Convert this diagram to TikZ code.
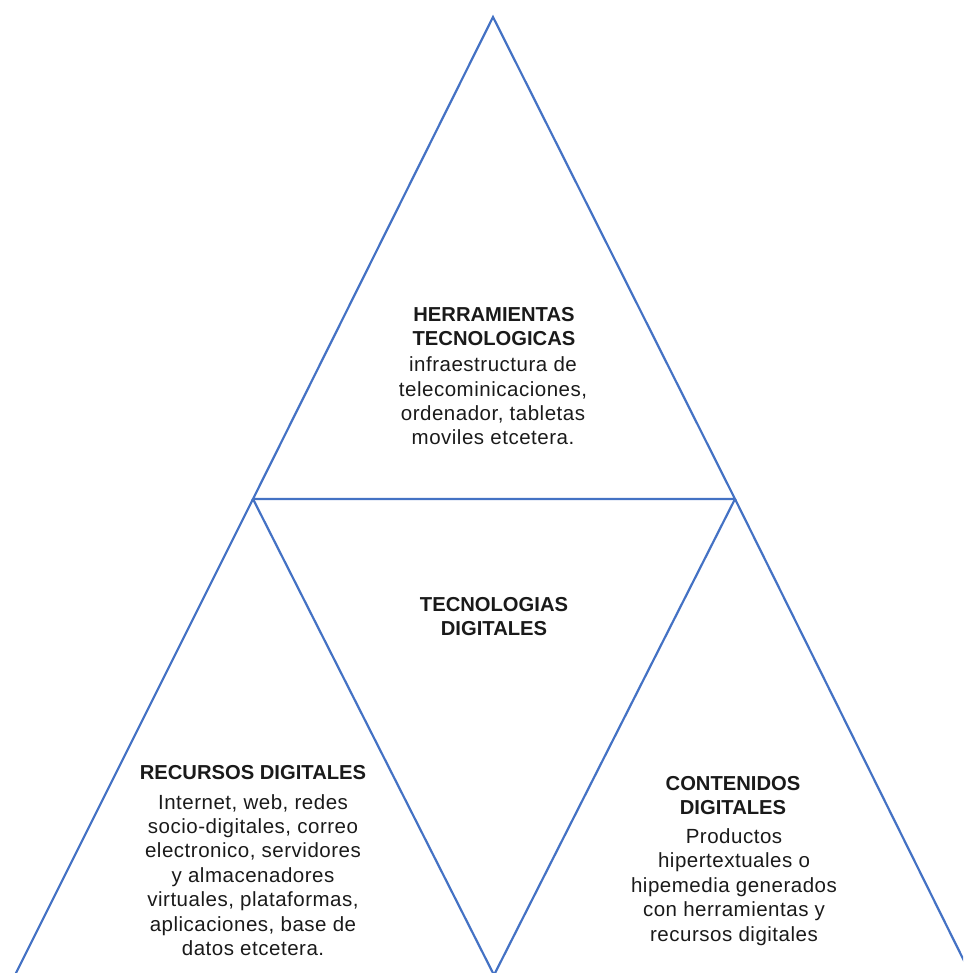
\documentclass[tikz,border=0pt]{standalone}
\usepackage{fontspec}
\setmainfont{Liberation Sans}
\newfontfamily\bodyfont[LetterSpace=2.5]{Liberation Sans}
\definecolor{lineblue}{HTML}{4472C4}
\definecolor{ink}{HTML}{1A1A1A}
\begin{document}
\begin{tikzpicture}[x=1pt,y=-1pt,
  edge/.style={draw=lineblue, line width=2.2pt, line join=miter},
  head/.style={font=\fontsize{20.2}{24}\selectfont\bfseries, text=ink, align=center, inner sep=0pt},
  body/.style={font=\bodyfont\fontsize{20.5}{24.4}\selectfont, text=ink, align=center, inner sep=0pt}]
\useasboundingbox (0,0) rectangle (963,973);
\clip (0,0) rectangle (963,973);
% corner points of the four triangles
\coordinate (apex) at (493,17);
\coordinate (ml) at (253,499);
\coordinate (mr) at (735,499);
\coordinate (bl) at (10,985);
\coordinate (bc) at (494,975);
\coordinate (br) at (976,985);
% top, middle (inverted), left and right triangles
\draw[edge] (apex) -- (ml) -- (mr) -- cycle;
\draw[edge] (ml) -- (bc) -- (mr);
\draw[edge] (ml) -- (bl);
\draw[edge] (mr) -- (br);
% labels
\node[head] (hT) at (494,327) {HERRAMIENTAS\\TECNOLOGICAS};
\node[body] (bT) at (493,401) {infraestructura de\\telecominicaciones,\\ordenador, tabletas\\moviles etcetera.};
\node[head] (hM) at (494,617) {TECNOLOGIAS\\DIGITALES};
\node[head] (hL) at (253,773) {RECURSOS DIGITALES};
\node[body] (bL) at (253,875) {Internet, web, redes\\socio-digitales, correo\\electronico, servidores\\y almacenadores\\virtuales, plataformas,\\aplicaciones, base de\\datos etcetera.};
\node[head] (hR) at (733,796) {CONTENIDOS\\DIGITALES};
\node[body] (bR) at (734,887) {Productos\\hipertextuales o\\hipemedia generados\\con herramientas y\\recursos digitales};
\end{tikzpicture}
\end{document}
